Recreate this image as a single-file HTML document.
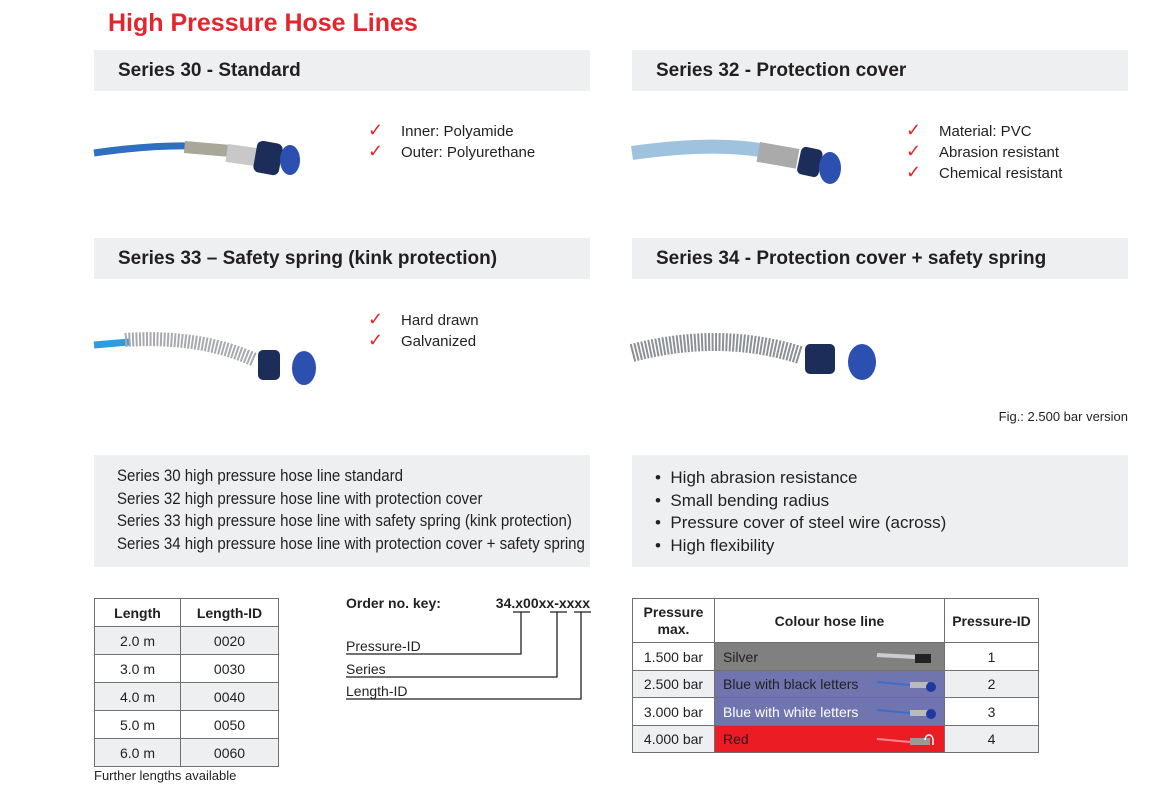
<!DOCTYPE html>
<html><head><meta charset="utf-8"><style>
*{margin:0;padding:0;box-sizing:border-box}
body{width:1156px;height:790px;background:#fff;position:relative;font-family:"Liberation Sans",sans-serif;color:#231f20;overflow:hidden}
.a{position:absolute;white-space:nowrap}
.bar{position:absolute;height:41px;width:496px;background:#eeeff0;font-weight:bold;font-size:19px;line-height:41px;padding-left:24px}
.ck{position:absolute;font-size:15px;line-height:20px}
.ck span{color:#e3262d;display:inline-block;width:33px;font-size:18px;line-height:18px}
.box{position:absolute;background:#eeeff0;width:496px;height:112px}
table{border-collapse:collapse;position:absolute}
td{border:1.5px solid #707070;text-align:center;font-size:14px}
</style></head><body>
<div class="a" style="left:108px;top:9px;font-size:25px;font-weight:bold;color:#e3262d">High Pressure Hose Lines</div>
<div class="bar" style="left:94px;top:50px">Series 30 - Standard</div>
<div class="bar" style="left:632px;top:50px">Series 32 - Protection cover</div>
<div class="bar" style="left:94px;top:238px">Series 33 – Safety spring (kink protection)</div>
<div class="bar" style="left:632px;top:238px">Series 34 - Protection cover + safety spring</div>

<div class="ck" style="left:368px;top:121px"><span>✓</span>Inner: Polyamide<br><span>✓</span>Outer: Polyurethane</div>
<div class="ck" style="left:906px;top:121px"><span>✓</span>Material: PVC<br><span>✓</span>Abrasion resistant<br><span>✓</span>Chemical resistant</div>
<div class="ck" style="left:368px;top:310px"><span>✓</span>Hard drawn<br><span>✓</span>Galvanized</div>

<svg class="a" style="left:90px;top:120px" width="230" height="70"><path d="M4 33 Q60 25 100 26" stroke="#2f6fc0" stroke-width="7" fill="none"/><rect x="95" y="21" width="45" height="12" fill="#a9a79a" transform="rotate(5 95 21)"/><rect x="138" y="24" width="30" height="18" fill="#c8c8c8" transform="rotate(8 138 24)"/><rect x="168" y="20" width="26" height="32" rx="6" fill="#1d2d5a" transform="rotate(10 168 20)"/><ellipse cx="200" cy="40" rx="10" ry="15" fill="#2b50b0"/></svg>
<svg class="a" style="left:630px;top:120px" width="250" height="70"><path d="M2 33 Q80 22 130 30" stroke="#9fc3df" stroke-width="14" fill="none"/><rect x="130" y="22" width="40" height="20" fill="#aaa" transform="rotate(10 130 22)"/><rect x="172" y="26" width="22" height="28" rx="5" fill="#1d2d5a" transform="rotate(12 172 26)"/><ellipse cx="200" cy="48" rx="11" ry="16" fill="#2b50b0"/></svg>
<svg class="a" style="left:90px;top:320px" width="240" height="70"><path d="M4 25 L40 22" stroke="#2f9ce0" stroke-width="7"/><path d="M35 20 Q110 15 165 40" stroke="#a6a9ad" stroke-width="14" fill="none" stroke-dasharray="2 1.5"/><rect x="168" y="30" width="22" height="30" rx="5" fill="#1d2d5a"/><ellipse cx="214" cy="48" rx="12" ry="17" fill="#2b50b0"/></svg>
<svg class="a" style="left:630px;top:320px" width="260" height="70"><path d="M2 33 Q90 10 170 35" stroke="#8c9094" stroke-width="18" fill="none" stroke-dasharray="2 1.5"/><rect x="175" y="24" width="30" height="30" rx="5" fill="#1d2d5a"/><ellipse cx="232" cy="42" rx="14" ry="18" fill="#2b50b0"/></svg>
<div class="a" style="right:28px;top:409px;font-size:13px">Fig.: 2.500 bar version</div>

<div class="box" style="left:94px;top:455px"></div>
<div class="a" style="left:117px;top:465px;font-size:17px;line-height:22.7px;transform:scaleX(0.885);transform-origin:0 0">Series 30 high pressure hose line standard<br>Series 32 high pressure hose line with protection cover<br>Series 33 high pressure hose line with safety spring (kink protection)<br>Series 34 high pressure hose line with protection cover + safety spring</div>
<div class="box" style="left:632px;top:455px"></div>
<div class="a" style="left:655px;top:467px;font-size:17px;line-height:22.7px">•&nbsp; High abrasion resistance<br>•&nbsp; Small bending radius<br>•&nbsp; Pressure cover of steel wire (across)<br>•&nbsp; High flexibility</div>

<table style="left:94px;top:598px;width:185px">
<tr style="height:28px"><td style="width:86px;font-weight:bold">Length</td><td style="font-weight:bold">Length-ID</td></tr>
<tr style="height:28px;background:#eeeff0"><td>2.0 m</td><td>0020</td></tr>
<tr style="height:28px"><td>3.0 m</td><td>0030</td></tr>
<tr style="height:28px;background:#eeeff0"><td>4.0 m</td><td>0040</td></tr>
<tr style="height:28px"><td>5.0 m</td><td>0050</td></tr>
<tr style="height:28px;background:#eeeff0"><td>6.0 m</td><td>0060</td></tr>
</table>
<div class="a" style="left:94px;top:768px;font-size:13px">Further lengths available</div>

<div class="a" style="left:346px;top:595px;font-size:14px;font-weight:bold">Order no. key:</div>
<div class="a" style="right:566px;top:595px;font-size:14px;font-weight:bold">34.x00xx-xxxx</div>
<svg class="a" style="left:340px;top:605px" width="260" height="100" fill="none" stroke="#231f20" stroke-width="1.3">
<path d="M173 7 H190 M181 7 V49 H6"/><path d="M210 7 H227 M217 7 V72 H6"/><path d="M234 7 H251 M241 7 V94 H6"/></svg>
<div class="a" style="left:346px;top:635px;font-size:14px;line-height:22.5px">Pressure-ID<br>Series<br>Length-ID</div>

<table style="left:632px;top:598px;width:407px">
<tr style="height:44px"><td style="width:82px;font-weight:bold;line-height:17px">Pressure<br>max.</td><td style="width:230px;font-weight:bold">Colour hose line</td><td style="font-weight:bold">Pressure-ID</td></tr>
<tr style="height:28px"><td>1.500 bar</td><td style="background:#808080;text-align:left;padding-left:8px">Silver</td><td>1</td></tr>
<tr style="height:27px;background:#eeeff0"><td>2.500 bar</td><td style="background:#7075b0;text-align:left;padding-left:8px">Blue with black letters</td><td>2</td></tr>
<tr style="height:28px"><td>3.000 bar</td><td style="background:#7075b0;color:#fff;text-align:left;padding-left:8px">Blue with white letters</td><td>3</td></tr>
<tr style="height:27px;background:#eeeff0"><td>4.000 bar</td><td style="background:#ec1c24;text-align:left;padding-left:8px">Red</td><td>4</td></tr>
</table>
<svg class="a" style="left:875px;top:650px" width="70" height="100">
<path d="M2 5 L40 7" stroke="#ccc" stroke-width="4"/><rect x="40" y="4" width="16" height="9" fill="#222"/>
<path d="M2 32 L35 35" stroke="#3a6fd0" stroke-width="2"/><rect x="35" y="32" width="18" height="6" fill="#bbb"/><circle cx="56" cy="37" r="5" fill="#1d3aa0"/>
<path d="M2 60 L35 63" stroke="#3a6fd0" stroke-width="2"/><rect x="35" y="60" width="18" height="6" fill="#bbb"/><circle cx="56" cy="64" r="5" fill="#1d3aa0"/>
<path d="M2 89 L35 92" stroke="#f88" stroke-width="2"/><rect x="35" y="88" width="20" height="7" fill="#999"/><path d="M50 90 a4 5 0 0 1 8 0 v5" stroke="#fff" fill="none" stroke-width="1.5"/></svg>
</body></html>
